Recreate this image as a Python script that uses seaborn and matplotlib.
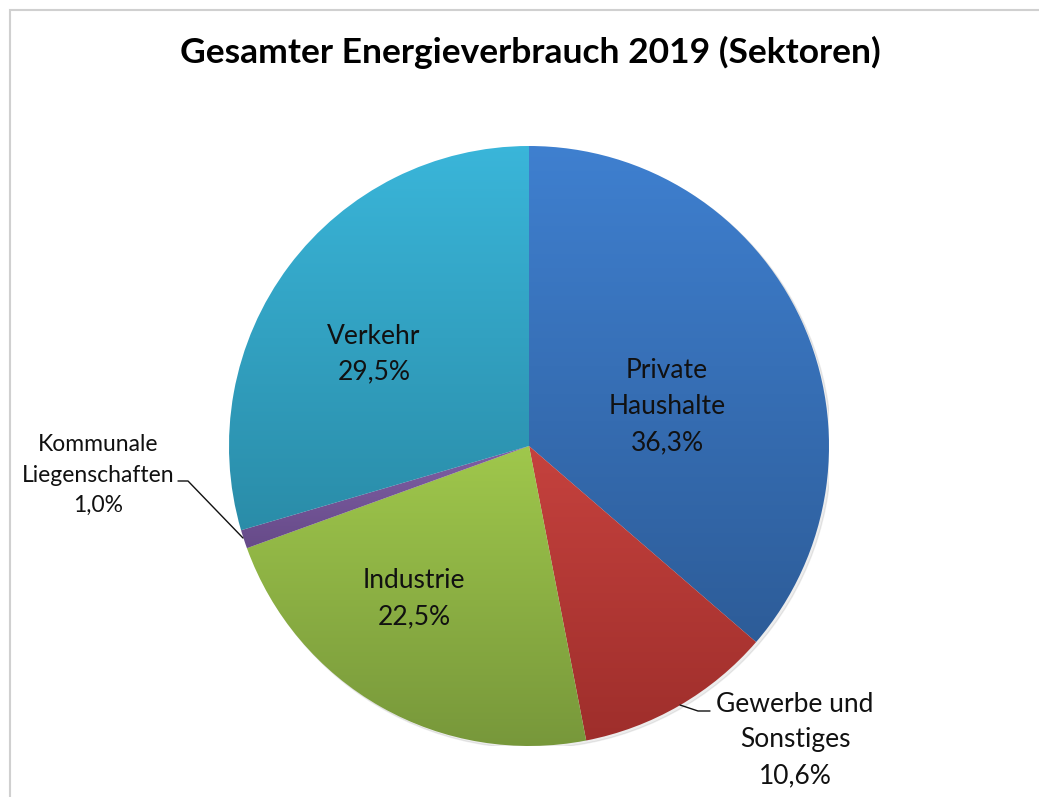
import numpy as np
import matplotlib
matplotlib.use("Agg")
import matplotlib.pyplot as plt
import seaborn as sns
from matplotlib.colors import LinearSegmentedColormap
from matplotlib.patches import Rectangle

categories = ["Private\nHaushalte", "Gewerbe und\nSonstiges", "Industrie",
              "Kommunale\nLiegenschaften", "Verkehr"]
values = [36.3, 10.6, 22.5, 1.0, 29.5]
top_colors = ["#3F80D0", "#C6423E", "#A0C84C", "#8060A6", "#3AB6DA"]
bottom_colors = ["#2D5C98", "#9E2E2B", "#76963A", "#664A88", "#2A8CA8"]

sns.set_theme(style="white")
plt.rcParams['font.family'] = ['Lato', 'DejaVu Sans']

W, H = 1039, 797
fig = plt.figure(figsize=(W / 100, H / 100), dpi=100)
cx, cy, r = 529, 446, 300
ax = fig.add_axes([(cx - r) / W, (H - cy - r) / H, 2 * r / W, 2 * r / H])
ax.set_xlim(-1, 1)
ax.set_ylim(-1, 1)
ax.set_aspect("equal")
ax.axis("off")

wedges, _ = ax.pie(values, startangle=90, counterclock=False, radius=1,
                   colors=top_colors, wedgeprops=dict(linewidth=0))

# subtle shadow
shadow = plt.Circle((0.008, -0.008), 1.0, color="#000000", alpha=0.07, zorder=0)
ax.add_patch(shadow)

for w, c1, c2 in zip(wedges, top_colors, bottom_colors):
    w.set_facecolor("none")
    path = w.get_path()
    verts = w.get_transform().transform(path.vertices)
    verts = ax.transData.inverted().transform(verts)
    ymin, ymax = verts[:, 1].min(), verts[:, 1].max()
    xmin, xmax = verts[:, 0].min(), verts[:, 0].max()
    cmap = LinearSegmentedColormap.from_list("g", [c2, c1])
    grad = np.linspace(0, 1, 256).reshape(-1, 1)
    im = ax.imshow(grad, cmap=cmap, origin="lower", aspect="auto",
                   extent=[xmin - 0.01, xmax + 0.01, ymin - 0.01, ymax + 0.01], zorder=1)
    im.set_clip_path(w)
ax.set_xlim(-1, 1)
ax.set_ylim(-1, 1)

def d(px, py):
    return ((px - cx) / r, (cy - py) / r)

labels_pos = [d(667, 407), d(795, 740), d(414, 599), d(98, 475), d(374, 354)]
fs = [19, 19, 19, 16.5, 19]
ls = [1.55, 1.55, 1.55, 1.55, 1.55]
for lab, v, pos, s, l in zip(categories, values, labels_pos, fs, ls):
    txt = f"{lab}\n{v:.1f}%".replace(".", ",")
    ax.text(pos[0], pos[1], txt, ha="center", va="center", fontsize=s,
            color="#111111", linespacing=l, clip_on=False, zorder=5)

# leader lines
for pts in ([(178, 481), (188, 481), (243, 538)], [(710, 711), (698, 711), (680, 705)]):
    xs, ys = zip(*[d(*p) for p in pts])
    ax.plot(xs, ys, color="#111111", lw=1, clip_on=False, zorder=5)

fig.text(530 / W, 1 - 52 / H, "Gesamter Energieverbrauch 2019 (Sektoren)",
         ha="center", va="center", fontsize=25.5, fontweight="bold", color="#000000")

fig.patches.append(Rectangle((10 / W, -0.1), 1.2, (H - 10) / H + 0.1,
                             transform=fig.transFigure, fill=False,
                             edgecolor="#D0D0D0", lw=1.5))

fig.savefig("out.png", dpi=100, facecolor="white")
